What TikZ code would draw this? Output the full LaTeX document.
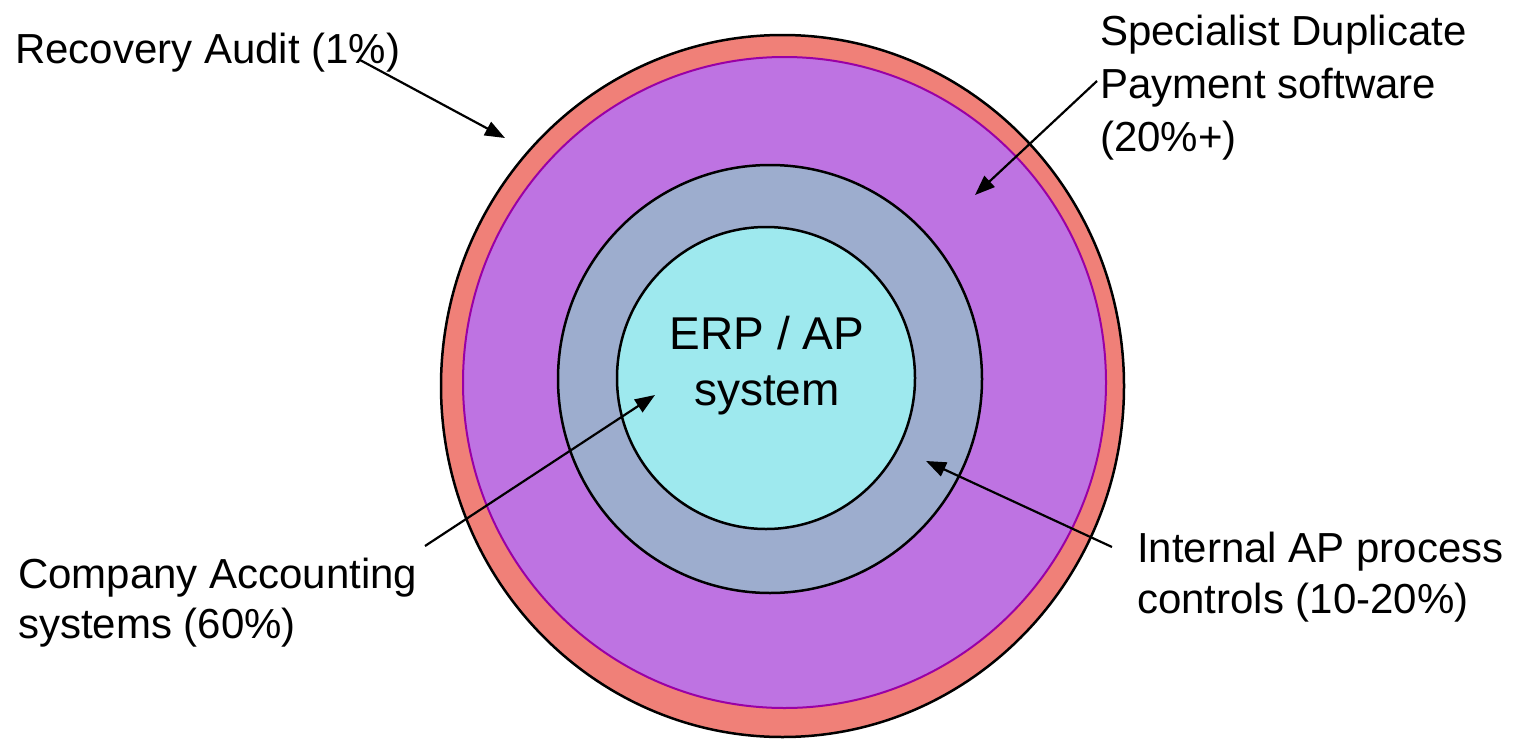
\documentclass[tikz,border=0pt]{standalone}
\usepackage{fontspec}
\setmainfont{Liberation Sans}
\usepackage{tikz}
\usetikzlibrary{arrows.meta,shapes.geometric}
\definecolor{auditred}{HTML}{F08078}
\definecolor{dupviolet}{HTML}{BE73E2}
\definecolor{dupedge}{HTML}{9A00A6}
\definecolor{apgrey}{HTML}{9DADCE}
\definecolor{erpcyan}{HTML}{9EE9EE}
\newcommand{\layer}[6]{
    \node[
        ellipse,
        draw=#2,
        fill=#1,
        line width=2.5pt,
        inner sep=0pt,
        minimum width=#4,
        minimum height=#5
    ] (#3) at (#6) {};
}

\begin{document}
\begin{tikzpicture}[x=1pt,y=-1pt,>={Triangle[length=20pt,width=15pt]},
    lbl/.style={inner sep=0pt, anchor=base west, align=left, font=\fontsize{42}{51}\selectfont},
    pointer/.style={->, line width=2.2pt}]
    \useasboundingbox (0,0) rectangle (1515,744);

    % rings, outside in (base anchor of a text node sits on its last line)
    \layer{auditred}{black}{audit}{683pt}{702pt}{782.5,386}
    \node[ellipse, draw=dupedge, fill=dupviolet, line width=2pt, inner sep=0pt, minimum width=643pt, minimum height=651pt] (dup) at (784.5,382.5) {};
    \layer{apgrey}{black}{internal}{424pt}{428pt}{770,379}
    \layer{erpcyan}{black}{erp}{298pt}{302pt}{766,378}
    \node[inner sep=0pt, anchor=base, align=center, font=\fontsize{46}{56}\selectfont] (erptext) at (767,405) {ERP / AP\\system};

    % labels
    \node[lbl] (recovery) at (15,63) {Recovery Audit (1\%)};
    \node[lbl, font=\fontsize{42}{53}\selectfont] (specialist) at (1100,151) {Specialist Duplicate\\Payment software\\(20\%+)};
    \node[lbl, font=\fontsize{42}{50}\selectfont] (company) at (18,638) {Company Accounting\\systems (60\%)};
    \node[lbl] (controls) at (1137,613) {Internal AP process\\controls (10-20\%)};

    % arrow ends
    \coordinate (recoveryfrom) at (360,60);
    \coordinate (recoveryto) at (505,138);
    \coordinate (specialistfrom) at (1097,81);
    \coordinate (specialistto) at (975,195);
    \coordinate (companyfrom) at (425,546);
    \coordinate (companyto) at (655,395);
    \coordinate (controlsfrom) at (1112,547);
    \coordinate (controlsto) at (926,461);

    \draw[pointer] (recoveryfrom) -- (recoveryto);
    \draw[pointer] (specialistfrom) -- (specialistto);
    \draw[pointer] (companyfrom) -- (companyto);
    \draw[pointer] (controlsfrom) -- (controlsto);
\end{tikzpicture}
\end{document}
